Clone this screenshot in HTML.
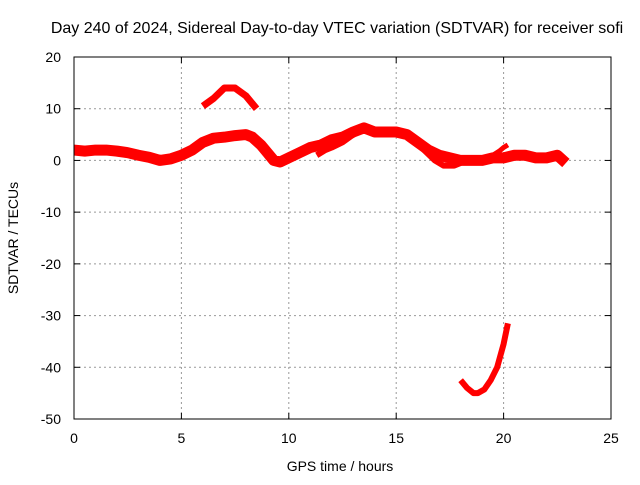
<!DOCTYPE html>
<html><head><meta charset="utf-8"><style>
body{margin:0;background:#fff;}
svg text{font-family:"Liberation Sans",sans-serif;font-size:14px;fill:#000;}
</style></head><body>
<svg id="chart" width="640" height="480">
<text x="337" y="33" text-anchor="middle" style="font-size:16px">Day 240 of 2024, Sidereal Day-to-day VTEC variation (SDTVAR) for receiver sofi</text>
<g id="grid"></g><g id="series"></g>
<rect x="74" y="57" width="537" height="362" fill="none" stroke="#000" stroke-width="1"/>
<g id="ticks"></g>
<text x="340" y="471" text-anchor="middle">GPS time / hours</text>
<text transform="translate(18,238) rotate(-90)" text-anchor="middle">SDTVAR / TECUs</text>
</svg>
<script>
const xTicks=[0,5,10,15,20,25];
const yTicks=[20,10,0,-10,-20,-30,-40,-50];
const mainX=[0,0.5,1,1.5,2,2.5,3,3.5,4,4.5,5,5.5,6,6.5,7,7.5,8,8.3,8.7,9,9.3,9.6,10,10.5,11,11.5,12,12.5,13,13.5,14,14.5,15,15.5,16,16.5,17,17.5,18,18.5,19,19.5,20,20.5,21,21.5,22,22.5,22.9];
const mainY=[2,1.8,2,2,1.8,1.5,1,0.6,0,0.3,1,2,3.5,4.3,4.5,4.8,5,4.5,3,1.5,0,-0.3,0.5,1.5,2.5,3,4,4.5,5.5,6.3,5.5,5.5,5.5,5,3.5,2,1,0.5,0,0,0,0.5,0.5,1,1,0.5,0.5,1,-0.5];
const humpX=[6,6.5,7,7.5,8,8.5];
const humpY=[10.5,12,14,14,12.5,10];
const branch1X=[11.3,11.7,12,12.5,13];
const branch1Y=[1,2,2.5,3.5,5];
const branch2X=[15.8,16.3,16.8,17.2,17.7,18];
const branch2Y=[4,2,0,-1,-1,-0.5];
const spikeX=[19.5,19.8,20,20.2];
const spikeY=[1,1.8,2.5,3];
const dipX=[18,18.3,18.6,18.8,19.1,19.4,19.7,20,20.2];
const dipY=[-42.5,-44,-45,-45,-44.3,-42.5,-40,-35.5,-31.5];
const X=v=>74+v*537/25, Y=v=>57+(20-v)*362/70;
const NS="http://www.w3.org/2000/svg";
const grid=document.getElementById('grid'),ticks=document.getElementById('ticks'),ser=document.getElementById('series');
function mk(tag,attrs,parent){const e=document.createElementNS(NS,tag);for(const k in attrs)e.setAttribute(k,attrs[k]);parent.appendChild(e);return e;}
xTicks.forEach(t=>{const x=X(t);
 if(t>0&&t<25){const l=mk('line',{x1:x,x2:x,y1:57,y2:419,stroke:'#999','stroke-dasharray':'2,3'},grid);
 
 }
 mk('line',{x1:x,x2:x,y1:419,y2:413,stroke:'#000'},ticks);mk('line',{x1:x,x2:x,y1:57,y2:63,stroke:'#000'},ticks);
 const tx=mk('text',{x:x,y:443,'text-anchor':'middle'},ticks);tx.textContent=t;
 
 });
yTicks.forEach(t=>{const y=Y(t);
 if(t<20&&t>-50){const l=mk('line',{x1:74,x2:611,y1:y,y2:y,stroke:'#999','stroke-dasharray':'2,3'},grid);
 
 }
 mk('line',{x1:74,x2:80,y1:y,y2:y,stroke:'#000'},ticks);mk('line',{x1:611,x2:605,y1:y,y2:y,stroke:'#000'},ticks);
 const tx=mk('text',{x:61,y:y+5,'text-anchor':'end'},ticks);tx.textContent=t;
 
 });
function draw(xs,ys,name,w){const p=mk('polyline',{points:xs.map((v,i)=>X(v)+','+Y(ys[i])).join(' '),fill:'none',stroke:'#f00','stroke-width':w,'stroke-linejoin':'round'},ser);
 
 }
draw(mainX,mainY,'series-main',11);
draw(humpX,humpY,'series-hump',7);
draw(branch1X,branch1Y,'series-branch-1',6);
draw(branch2X,branch2Y,'series-branch-2',6);
draw(spikeX,spikeY,'series-spike',5);
draw(dipX,dipY,'series-dip',6);
</script>
</body></html>
